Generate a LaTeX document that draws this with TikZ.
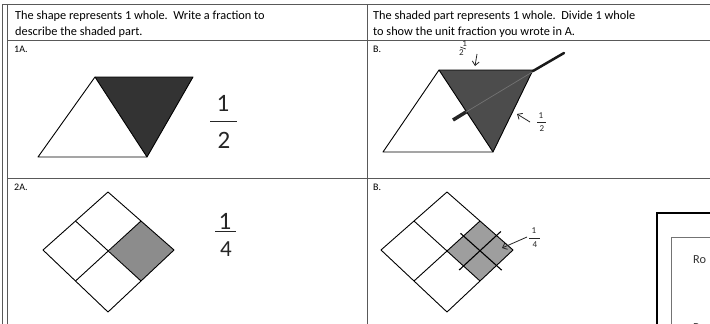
\documentclass[tikz,border=0pt]{standalone}
\usepackage{fontspec}
\setmainfont{Carlito}
\usetikzlibrary{calc, arrows.meta}

\begin{document}
\begin{tikzpicture}[x=1pt, y=-1pt,
    frame/.style={line width=0.8pt, black!65},
    figline/.style={line width=0.9pt, line join=round},
    header/.style={anchor=base west, align=left, inner sep=0pt, font=\fontsize{12.3}{16}\selectfont},
    tag/.style={anchor=base west, inner sep=0pt, font=\fontsize{10}{10}\selectfont},
    hand/.style={black!85, inner sep=0pt, font=\fontsize{25}{25}\selectfont},
    handsmall/.style={black!85, inner sep=0pt, font=\fontsize{9}{9}\selectfont},
    handarrow/.style={-{Straight Barb[length=4pt, width=7pt]}, line width=0.8pt, black!85}]
    \clip (0,0) rectangle (710,324);
    \fill[white] (0,0) rectangle (710,324);

    % Table rules
    \draw[frame] (2,4) -- (2,324);
    \draw[frame] (7,4) -- (7,324);
    \draw[frame] (2,4) -- (710,4);
    \draw[frame] (7,40) -- (710,40);
    \draw[frame] (7,178) -- (710,178);
    \draw[frame] (367,4) -- (367,324);

    % Headers
    \node[header] (headA) at (15,35) {The shape represents 1 whole.\ \ Write a fraction to\\describe the shaded part.};
    \node[header] (headB) at (373,35) {The shaded part represents 1 whole.\ \ Divide 1 whole\\to show the unit fraction you wrote in A.};
    \node[tag] (tag1A) at (14,52) {1A.};
    \node[tag] (tag1B) at (373,52) {B.};
    \node[tag] (tag2A) at (14,190) {2A.};
    \node[tag] (tag2B) at (373,190) {B.};

    % 1A: parallelogram, right half shaded
    \coordinate (a1) at (38,157);
    \coordinate (b1) at (147,157);
    \coordinate (c1) at (193,77);
    \coordinate (d1) at (95,77);
    \fill[black!80] (d1) -- (c1) -- (b1) -- cycle;
    \draw[figline] (a1) -- (b1) -- (c1) -- (d1) -- cycle;
    \draw[figline] (d1) -- (b1);

    % 1A answer
    \node[hand] (num1A) at (223,103) {1};
    \node[hand] (den1A) at (224,140) {2};
    \draw[line width=0.9pt, black!85] (210,121) -- (237,121);

    % 1B: same shape, shaded part cut in two
    \coordinate (a2) at (383,152);
    \coordinate (b2) at (493,152);
    \coordinate (c2) at (533,70);
    \coordinate (d2) at (439,70);
    \fill[black!70] (d2) -- (c2) -- (b2) -- cycle;
    \draw[figline] (a2) -- (b2) -- (c2) -- (d2) -- cycle;
    \draw[figline] (d2) -- (b2);
    \draw[black!55, line width=0.7pt] (466,112) -- (534,71);
    \draw[line width=3.5pt, black!85] (453,120) -- (466,112);
    \draw[line width=2.5pt, black!90, line cap=round] (533,71) -- (564,53);

    % 1B halves
    \begin{scope}[shift={(463,48)}, rotate=-20]
        \node[handsmall] (numTop) at (0,-5) {1};
        \node[handsmall] (denTop) at (0,5) {2};
        \draw[line width=0.6pt, black!85] (-3,0) -- (3,0);
    \end{scope}
    \coordinate (tipTop) at (475,66);
    \draw[handarrow] (477,54) -- (tipTop);
    \node[handsmall] (numRight) at (541,116) {1};
    \node[handsmall] (denRight) at (542,129) {2};
    \draw[line width=0.6pt, black!85] (537,122) -- (546,122);
    \coordinate (tipRight) at (517,114);
    \draw[handarrow] (530,122) -- (tipRight);

    % 2A: square in four parts, one shaded
    \coordinate (t3) at (108,192);
    \coordinate (r3) at (174,250);
    \coordinate (b3) at (108,312);
    \coordinate (l3) at (43,250);
    \coordinate (o3) at (109,251);
    \fill[black!45] (o3) -- ($(t3)!0.5!(r3)$) -- (r3) -- ($(r3)!0.5!(b3)$) -- cycle;
    \draw[figline] (t3) -- (r3) -- (b3) -- (l3) -- cycle;
    \draw[figline] ($(t3)!0.5!(r3)$) -- ($(b3)!0.5!(l3)$);
    \draw[figline] ($(l3)!0.5!(t3)$) -- ($(r3)!0.5!(b3)$);

    % 2A answer
    \node[hand] (num2A) at (225,221) {1};
    \node[hand, font=\fontsize{23}{23}\selectfont] (den2A) at (226,249) {4};
    \draw[line width=0.9pt, black!85] (215,231) -- (236,231);

    % 2B: shaded part cut in four
    \coordinate (t4) at (447,192);
    \coordinate (r4) at (513,250);
    \coordinate (b4) at (447,312);
    \coordinate (l4) at (381,250);
    \coordinate (o4) at (447,251);
    \coordinate (m4) at ($(t4)!0.5!(r4)$);
    \coordinate (n4) at ($(r4)!0.5!(b4)$);
    \fill[black!38] (o4) -- (m4) -- (r4) -- (n4) -- cycle;
    \draw[figline] (t4) -- (r4) -- (b4) -- (l4) -- cycle;
    \draw[figline] (m4) -- ($(b4)!0.5!(l4)$);
    \draw[figline] ($(l4)!0.5!(t4)$) -- (n4);
    \draw[line width=1.1pt, shorten <=-4pt, shorten >=-7pt]
        ($(o4)!0.5!(m4)$) -- ($(n4)!0.5!(r4)$);
    \draw[line width=1.1pt, shorten <=-6pt, shorten >=-6pt]
        ($(o4)!0.5!(n4)$) -- ($(m4)!0.5!(r4)$);

    % 2B quarter
    \node[handsmall] (num2B) at (534,231) {1};
    \node[handsmall] (den2B) at (535,245) {4};
    \draw[line width=0.6pt, black!85] (529,238) -- (540,238);
    \coordinate (tip2B) at (502,248);
    \draw[handarrow] (527,237) -- (tip2B);

    % Box at the edge
    \draw[line width=2.2pt] (657,213) rectangle (760,400);
    \draw[line width=0.8pt, black!55] (671,237) rectangle (760,400);
    \node[header, black!80] (rowOne) at (693,263) {Ro};
    \node[header, black!80] (rowTwo) at (693,331) {Re};
\end{tikzpicture}
\end{document}
